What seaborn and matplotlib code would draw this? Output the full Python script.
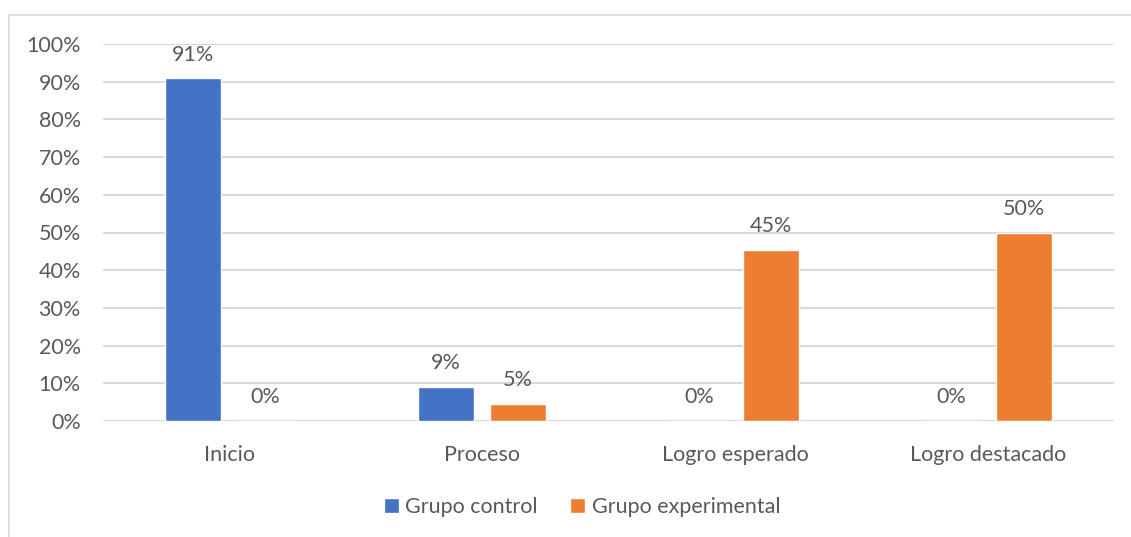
import matplotlib
matplotlib.use("Agg")
import matplotlib.pyplot as plt
import matplotlib.lines as mlines
import seaborn as sns
import pandas as pd

categories = ["Inicio", "Proceso", "Logro esperado", "Logro destacado"]
series_names = ["Grupo control", "Grupo experimental"]
control_values = [90.9, 9.1, 0.0, 0.0]
experimental_values = [0.0, 4.55, 45.45, 50.0]
y_ticks = [0, 10, 20, 30, 40, 50, 60, 70, 80, 90, 100]

colors = ["#4472C4", "#ED7D31"]
text_color = "#595959"
grid_color = "#D9D9D9"
fs = 15.5

df = pd.DataFrame({
    "categoria": categories * 2,
    "grupo": [series_names[0]] * 4 + [series_names[1]] * 4,
    "valor": control_values + experimental_values,
})

sns.set_theme(style="white")
plt.rcParams["font.family"] = ["Lato", "DejaVu Sans"]

fig = plt.figure(figsize=(11.31, 5.37), dpi=100)
ax = fig.add_axes([103 / 1131, 1 - 421 / 537, (1114 - 103) / 1131, (421 - 44) / 537])

sns.barplot(data=df, x="categoria", y="valor", hue="grupo", order=categories,
            hue_order=series_names, palette=colors, width=0.568, gap=0.22,
            saturation=1, ax=ax, legend=True, zorder=3)

ax.set_ylim(0, 100)
ax.set_xlim(-0.5, len(categories) - 0.5)
ax.set_yticks(y_ticks)
ax.set_yticklabels([f"{t}%" for t in y_ticks])
ax.yaxis.grid(True, color=grid_color, linewidth=1.5, zorder=0)
ax.set_axisbelow(True)
for s in ax.spines.values():
    s.set_visible(False)
ax.tick_params(axis="both", length=0, labelsize=fs, labelcolor=text_color)
ax.tick_params(axis="y", pad=16)
ax.tick_params(axis="x", pad=17)
ax.set_xlabel("")
ax.set_ylabel("")

for cont in ax.containers:
    for rect in cont:
        h = rect.get_height()
        ax.annotate(f"{h:.0f}%", (rect.get_x() + rect.get_width() / 2, h),
                    xytext=(0, 17), textcoords="offset points",
                    ha="center", va="center", fontsize=fs, color=text_color)

handles, labels = ax.get_legend_handles_labels()
leg = ax.legend(handles, labels, loc="center", bbox_to_anchor=(582 / 1131, 1 - 507 / 537),
                bbox_transform=fig.transFigure, ncol=2, frameon=False,
                fontsize=fs, handlelength=0.7, handleheight=0.7,
                handletextpad=0.3, columnspacing=1.5)
for t in leg.get_texts():
    t.set_color(text_color)

fig.add_artist(mlines.Line2D([9 / 1131, 9 / 1131], [0, 1 - 15 / 537],
                             transform=fig.transFigure, color=grid_color, linewidth=1.2))
fig.add_artist(mlines.Line2D([9 / 1131, 1], [1 - 15 / 537, 1 - 15 / 537],
                             transform=fig.transFigure, color=grid_color, linewidth=1.2))

fig.savefig("out.png", dpi=100, facecolor="white")
